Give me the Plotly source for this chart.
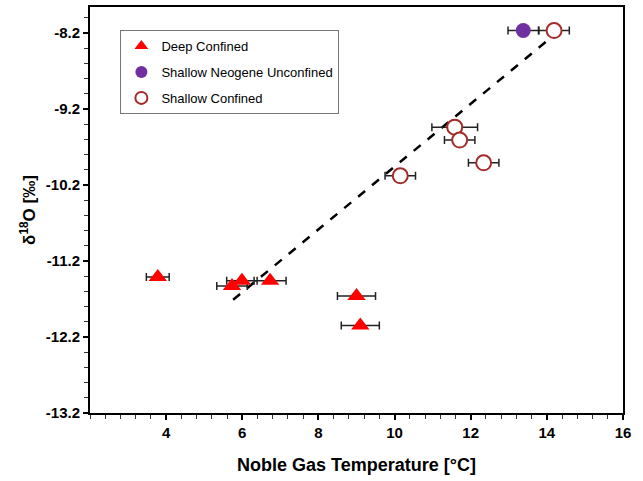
import plotly.graph_objects as go

# Deep Confined
deep_x = [3.78, 5.73, 5.99, 6.73, 9.00, 9.10]
deep_y = [-11.41, -11.53, -11.46, -11.46, -11.66, -12.05]
deep_xerr = [0.3, 0.4, 0.4, 0.42, 0.5, 0.5]

# Shallow Neogene Unconfined
neo_x = [13.38]
neo_y = [-8.17]
neo_xerr = [0.4]

# Shallow Confined
sc_x = [14.19, 11.58, 11.71, 12.34, 10.15]
sc_y = [-8.17, -9.44, -9.61, -9.91, -10.08]
sc_xerr = [0.4, 0.6, 0.4, 0.4, 0.4]

# regression line end points
fit_x = [5.76, 14.48]
fit_y = [-11.71, -8.11]

x_ticks = [4, 6, 8, 10, 12, 14, 16]
y_ticks = [-8.2, -9.2, -10.2, -11.2, -12.2, -13.2]

FONT = "Liberation Sans, Arial, sans-serif"

fig = go.Figure()

fig.add_trace(go.Scatter(
    x=fit_x, y=fit_y, mode="lines", showlegend=False,
    line=dict(color="black", width=2.5, dash="dash"), hoverinfo="skip"))

err = dict(type="data", thickness=1.5, width=4, color="#222222")

fig.add_trace(go.Scatter(
    x=deep_x, y=deep_y, mode="markers", name="Deep Confined", legendgroup="a",
    error_x=dict(array=deep_xerr, **err),
    marker=dict(symbol="triangle-up", size=16, color="#ff0000",
                line=dict(width=0))))

fig.add_trace(go.Scatter(
    x=neo_x, y=neo_y, mode="markers", name="Shallow Neogene Unconfined",
    legendgroup="b",
    error_x=dict(array=neo_xerr, **err),
    marker=dict(symbol="circle", size=15, color="#7030a0",
                line=dict(width=0))))

fig.add_trace(go.Scatter(
    x=sc_x, y=sc_y, mode="markers", name="Shallow Confined", legendgroup="c",
    error_x=dict(array=sc_xerr, **err),
    marker=dict(symbol="circle", size=15, color="white",
                line=dict(width=2, color="#a52a2a"))))

fig.update_layout(
    width=643, height=481,
    margin=dict(l=90, r=20, t=7, b=68),
    paper_bgcolor="white", plot_bgcolor="white",
    font=dict(family=FONT, color="black"),
    legend=dict(
        x=0.057, y=0.943, xanchor="left", yanchor="top",
        bgcolor="white", bordercolor="#777777", borderwidth=1,
        font=dict(size=13, family=FONT, color="black"),
        tracegroupgap=6, itemsizing="constant", itemwidth=30),
    xaxis=dict(
        range=[2, 16], tickvals=x_ticks, automargin=False,
        ticktext=[str(v) for v in x_ticks],
        showgrid=False, zeroline=False,
        showline=True, linecolor="black", linewidth=2, mirror=True,
        ticks="outside", ticklen=5, tickwidth=1.5, tickcolor="black",
        minor=dict(dtick=0.4, tick0=2, ticks="outside", ticklen=4,
                   tickwidth=1, tickcolor="#333333"),
        tickfont=dict(size=15, family=FONT, color="black", weight="bold"),
        title=dict(text="<b>Noble Gas Temperature [°C]</b>",
                   font=dict(size=18, family=FONT, color="black"),
                   standoff=18)),
    yaxis=dict(
        range=[-13.2, -7.86], tickvals=y_ticks, automargin=False,
        ticktext=["%.1f" % v for v in y_ticks],
        showgrid=False, zeroline=False,
        showline=True, linecolor="black", linewidth=2, mirror=True,
        ticks="outside", ticklen=5, tickwidth=1.5, tickcolor="black",
        minor=dict(dtick=0.2, tick0=-13.2, ticks="outside", ticklen=4,
                   tickwidth=1, tickcolor="#333333"),
        tickfont=dict(size=15, family=FONT, color="black", weight="bold"),
        title=dict(text="<b>δ<sup>18</sup>O [‰]</b>",
                   font=dict(size=17, family=FONT, color="black"),
                   standoff=6)),
)

fig.write_html("out.html", config={"displayModeBar": False},
               post_script="document.body.style.margin='0';")
